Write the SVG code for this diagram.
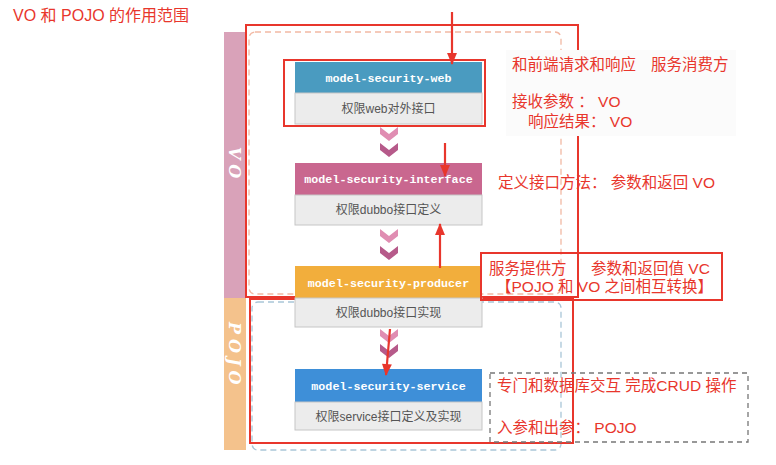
<svg xmlns="http://www.w3.org/2000/svg" width="776" height="465" viewBox="0 0 776 465">
<defs>
<style>
.hdr{font-family:"Liberation Mono","DejaVu Sans Mono",monospace;font-size:11.7px;font-weight:bold;fill:#ffffff;text-anchor:middle}
.body{fill:#ececec;stroke:#c6c6c6;stroke-width:1}
.btxt{font-family:"Liberation Sans","Noto Sans CJK SC",sans-serif;font-size:12px;fill:#555555;text-anchor:middle}
.red{font-family:"Liberation Sans","Noto Sans CJK SC",sans-serif;font-size:15.5px;fill:#e8362c}
.redbox{fill:none;stroke:#e8362c;stroke-width:2}
.arr{stroke:#e8362c;stroke-width:2.2;fill:none}
.vert{font-family:"DejaVu Serif","Liberation Serif",serif;font-style:italic;font-weight:bold;font-size:16px;fill:#ffffff;letter-spacing:5px}
</style>
<marker id="ah" viewBox="0 0 12 10" refX="11" refY="5" markerWidth="6" markerHeight="4.5" orient="auto" markerUnits="strokeWidth">
<path d="M0,0 L12,5 L0,10 Z" fill="#e8362c"/>
</marker>
<path id="chev" d="M-9,0 L0,7 L9,0 L9,7 L0,14 L-9,7 Z"/>
</defs>
<rect width="776" height="465" fill="#ffffff"/>

<text class="red" x="13" y="21" style="font-size:16px">VO 和 POJO 的作用范围</text>

<g id="scope-bars">
<rect x="224" y="32" width="22" height="266" fill="#d9a2b9"/>
<rect x="224" y="298" width="22" height="152" fill="#f4c28c"/>
<text class="vert" transform="translate(229,147) rotate(90)">VO</text>
<text class="vert" transform="translate(229,322) rotate(90)">POJO</text>
</g>

<g id="scope-frames">
<rect x="249" y="32" width="312" height="262" rx="6" fill="none" stroke="#f2b9a4" stroke-width="1.3" stroke-dasharray="6,4"/>
<rect x="252" y="302" width="309" height="148" rx="6" fill="none" stroke="#a9c6d8" stroke-width="1.3" stroke-dasharray="6,4"/>
<rect x="246" y="25" width="332" height="272" class="redbox"/>
<rect x="250" y="299" width="323" height="144" class="redbox"/>
</g>

<g id="node-web">
<rect x="295" y="62" width="187" height="31" fill="#4a9bc0"/>
<text class="hdr" x="388.5" y="81.5">model-security-web</text>
<rect x="295" y="93" width="187" height="31" class="body"/>
<text class="btxt" x="388.5" y="113">权限web对外接口</text>
<rect x="284" y="60" width="201" height="66" class="redbox"/>
</g>

<g id="node-interface">
<rect x="295" y="163" width="187" height="32" fill="#c9678f"/>
<text class="hdr" x="388.5" y="183">model-security-interface</text>
<rect x="295" y="195" width="187" height="30" class="body"/>
<text class="btxt" x="388.5" y="214">权限dubbo接口定义</text>
</g>

<g id="node-producer">
<rect x="295" y="266" width="187" height="32" fill="#f2ae3c"/>
<text class="hdr" x="388.5" y="287">model-security-producer</text>
<rect x="295" y="298" width="187" height="29" class="body"/>
<text class="btxt" x="388.5" y="317">权限dubbo接口实现</text>
</g>

<g id="node-service">
<rect x="295" y="369" width="187" height="33" fill="#3e8fd8"/>
<text class="hdr" x="388.5" y="390">model-security-service</text>
<rect x="295" y="402" width="187" height="28" class="body"/>
<text class="btxt" x="388.5" y="421">权限service接口定义及实现</text>
</g>

<g id="connectors">
<use href="#chev" x="389" y="127" fill="#e08db2"/>
<use href="#chev" x="389" y="143" fill="#b65a8a"/>
<use href="#chev" x="389" y="229" fill="#e08db2"/>
<use href="#chev" x="389" y="246" fill="#b65a8a"/>
<use href="#chev" x="389" y="329" fill="#e08db2"/>
<use href="#chev" x="389" y="344" fill="#b65a8a"/>
<line class="arr" x1="452" y1="12" x2="452" y2="64" marker-end="url(#ah)"/>
<line class="arr" x1="445" y1="143" x2="445" y2="176" marker-end="url(#ah)"/>
<line class="arr" x1="440" y1="268" x2="440" y2="224" marker-end="url(#ah)"/>
<line class="arr" x1="390" y1="329" x2="386" y2="375" marker-end="url(#ah)"/>
</g>

<g id="notes">
<rect x="506" y="50" width="230" height="86" fill="#fbfbfb"/>
<text class="red" x="512" y="70">和前端请求和响应</text>
<text class="red" x="651" y="70">服务消费方</text>
<text class="red" x="512" y="107">接收参数 ：  VO</text>
<text class="red" x="528" y="127">响应结果：  VO</text>
<text class="red" x="498" y="188">定义接口方法：  参数和返回 VO</text>
<rect x="481" y="253" width="241" height="47" class="redbox" stroke-width="1.3"/>
<text class="red" x="489" y="274">服务提供方</text>
<text class="red" x="591" y="274">参数和返回值  VC</text>
<text class="red" x="496" y="292">【POJO 和 VO 之间相互转换】</text>
<rect x="490" y="373" width="258" height="69" fill="none" stroke="#777777" stroke-width="1.3" stroke-dasharray="5,4"/>
<text class="red" x="497" y="391">专门和数据库交互 完成CRUD 操作</text>
<text class="red" x="497" y="433">入参和出参：  POJO</text>
</g>
</svg>
